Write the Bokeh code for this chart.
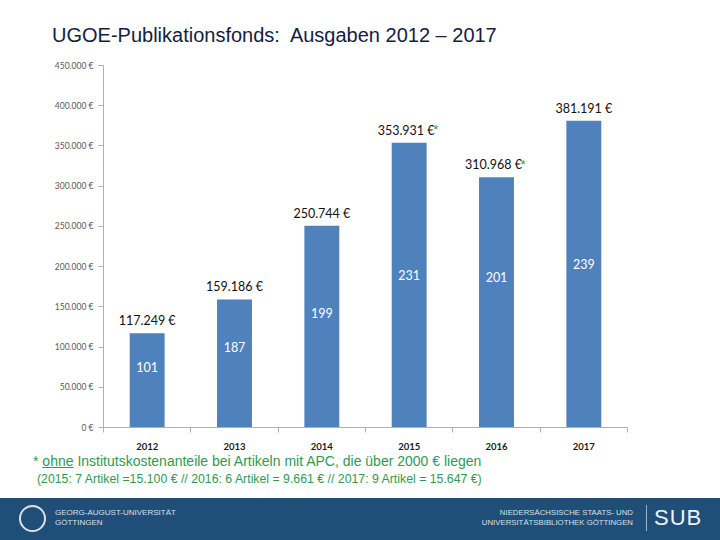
from bokeh.plotting import figure
from bokeh.models import Range1d, FixedTicker, ColumnDataSource, Div
from bokeh.layouts import column
from bokeh.core.properties import value
from bokeh.embed import file_html
from bokeh.resources import INLINE

# ---------------- data ----------------
years = ["2012", "2013", "2014", "2015", "2016", "2017"]
spend = [117249, 159186, 250744, 353931, 310968, 381191]
spend_labels = ["117.249 €", "159.186 €", "250.744 €", "353.931 €", "310.968 €", "381.191 €"]
articles = [101, 187, 199, 231, 201, 239]
footnote_flag = [False, False, False, True, True, False]
y_ticks = [0, 50000, 100000, 150000, 200000, 250000, 300000, 350000, 400000, 450000]

title_text = "UGOE-Publikationsfonds:  Ausgaben 2012 – 2017"
note1_pre = "* "
note1_ul = "ohne"
note1_post = " Institutskostenanteile bei Artikeln mit APC, die über 2000 € liegen"
note2 = "(2015: 7 Artikel =15.100 € // 2016: 6 Artikel = 9.661 € // 2017: 9 Artikel = 15.647 €)"
foot_left = ["GEORG-AUGUST-UNIVERSITÄT", "GÖTTINGEN"]
foot_right = ["NIEDERSÄCHSISCHE STAATS- UND", "UNIVERSITÄTSBIBLIOTHEK GÖTTINGEN"]
foot_brand = "SUB"

# ---------------- style ----------------
count_label_pos = [0.64, 0.63, 0.57, 0.535, 0.60, 0.533]   # relative height of article counts
BAR = "#4f81bd"
GREEN = "#2f9a52"
AXIS = "#b0b0b0"
FOOT_BG = "#1f4e79"
FOOT_TXT = "#d9e0e8"

W = 720
H_TITLE, H_MAIN, H_NOTES, H_FOOT = 55, 397, 46, 42
FL, FR, FT = 103, 93, 10
FH = 363
FB = H_MAIN - FT - FH
YMAX = 450000
N = len(years)
per_px = YMAX / FH

xs = [i + 0.5 for i in range(N)]
src = ColumnDataSource(dict(
    x=xs,
    top=spend,
    lbl=spend_labels,
    lbl_x=[x - (0.035 if f else 0) for x, f in zip(xs, footnote_flag)],
    lbl_y=[s + 12.5 * per_px for s in spend],
    cnt=[str(a) for a in articles],
    cnt_y=[s * f for s, f in zip(spend, count_label_pos)],
))
star_src = ColumnDataSource(dict(
    x=[x for x, f in zip(xs, footnote_flag) if f],
    y=[s + 13 * per_px for s, f in zip(spend, footnote_flag) if f],
    t=["*" for f in footnote_flag if f],
))

p = figure(width=W, height=H_MAIN, x_range=Range1d(0, N), y_range=Range1d(0, YMAX),
           toolbar_location=None, output_backend="svg",
           min_border_left=FL, min_border_right=FR, min_border_top=FT, min_border_bottom=FB)
p.grid.visible = False
p.outline_line_color = None
p.background_fill_color = "white"
p.border_fill_color = "white"

p.vbar(x="x", top="top", width=0.4, source=src, fill_color=BAR, line_color=None)

p.text(x="lbl_x", y="lbl_y", text="lbl", source=src, text_align="center", text_baseline="middle",
       text_font=value("Lato"), text_font_size="12.5px", text_color="#111111")
p.text(x="x", y="y", text="t", source=star_src, x_offset=24, text_align="left", text_baseline="middle",
       text_font=value("Liberation Sans"), text_font_size="13px", text_color=GREEN)
p.text(x="x", y="cnt_y", text="cnt", source=src, text_align="center", text_baseline="middle",
       text_font=value("Lato"), text_font_size="12.5px", text_color="white")

# y axis
yax = p.yaxis[0]
yax.ticker = FixedTicker(ticks=y_ticks)
yax.major_label_overrides = {t: ("{:,}".format(t).replace(",", ".") + " €") for t in y_ticks}
yax.major_tick_out = 5
yax.major_tick_in = 0
yax.minor_tick_line_color = None
yax.axis_line_color = AXIS
yax.major_tick_line_color = AXIS
yax.major_label_text_font = "Lato"
yax.major_label_text_font_size = "8.5px"
yax.major_label_text_color = "#595959"
yax.major_label_standoff = 5

# x axis
xax = p.xaxis[0]
xax.ticker = FixedTicker(ticks=xs, minor_ticks=list(range(N + 1)))
xax.major_label_overrides = {x: y for x, y in zip(xs, years)}
xax.major_tick_line_color = None
xax.major_tick_out = 0
xax.major_tick_in = 0
xax.minor_tick_out = 5
xax.minor_tick_in = 0
xax.minor_tick_line_color = AXIS
xax.axis_line_color = AXIS
xax.major_label_text_font = "Lato"
xax.major_label_text_font_style = "bold"
xax.major_label_text_font_size = "9.5px"
xax.major_label_text_color = "#1a1a1a"
xax.major_label_standoff = 10


def span(txt, left=None, right=None, cy=0, size=12, color="#000", lh=20, extra=""):
    pos = (f"left:{left}px;" if left is not None else f"right:{right}px;")
    return (f'<span style="position:absolute;{pos}top:{cy - lh / 2}px;line-height:{lh}px;'
            f'font-size:{size}px;color:{color};white-space:pre;{extra}">{txt}</span>')


BOX = "position:relative;margin:0;padding:0;overflow:hidden;font-family:'Liberation Sans',Arial,sans-serif;"

title_div = Div(width=W, height=H_TITLE, margin=(0, 0, 0, 0),
                text=f'<div style="{BOX}width:{W}px;height:{H_TITLE}px;">'
                     + span(title_text, left=52, cy=35, size=20, color="#14213d", lh=24) + '</div>')

notes_html = (f'<div style="{BOX}width:{W}px;height:{H_NOTES}px;">'
              + span(note1_pre + f'<span style="text-decoration:underline;">{note1_ul}</span>' + note1_post,
                     left=33, cy=9, size=14, color=GREEN, lh=18)
              + span(note2, left=37, cy=27, size=12.3, color=GREEN, lh=16)
              + '</div>')
notes_div = Div(width=W, height=H_NOTES, margin=(0, 0, 0, 0), text=notes_html)

foot_html = (f'<div style="{BOX}width:{W}px;height:{H_FOOT}px;background:{FOOT_BG};">'
             f'<div style="position:absolute;left:19px;top:7px;width:27px;height:27px;box-sizing:border-box;'
             f'border:2px solid {FOOT_TXT};border-radius:50%;"></div>'
             + span(foot_left[0], left=55, cy=15, size=8, color=FOOT_TXT, lh=10)
             + span(foot_left[1], left=55, cy=25, size=8, color=FOOT_TXT, lh=10)
             + span(foot_right[0], right=87, cy=15, size=7.8, color=FOOT_TXT, lh=10)
             + span(foot_right[1], right=87, cy=25, size=7.8, color=FOOT_TXT, lh=10)
             + f'<div style="position:absolute;left:646px;top:7px;width:1px;height:26px;background:#9fb3c8;"></div>'
             + span(foot_brand, left=654, cy=20, size=22, color="#f0f3f7", lh=26, extra="letter-spacing:1px;")
             + '</div>')
foot_div = Div(width=W, height=H_FOOT, margin=(0, 0, 0, 0), text=foot_html)

layout = column(title_div, p, notes_div, foot_div, spacing=0)
open("out.html", "w").write(file_html(layout, INLINE))
